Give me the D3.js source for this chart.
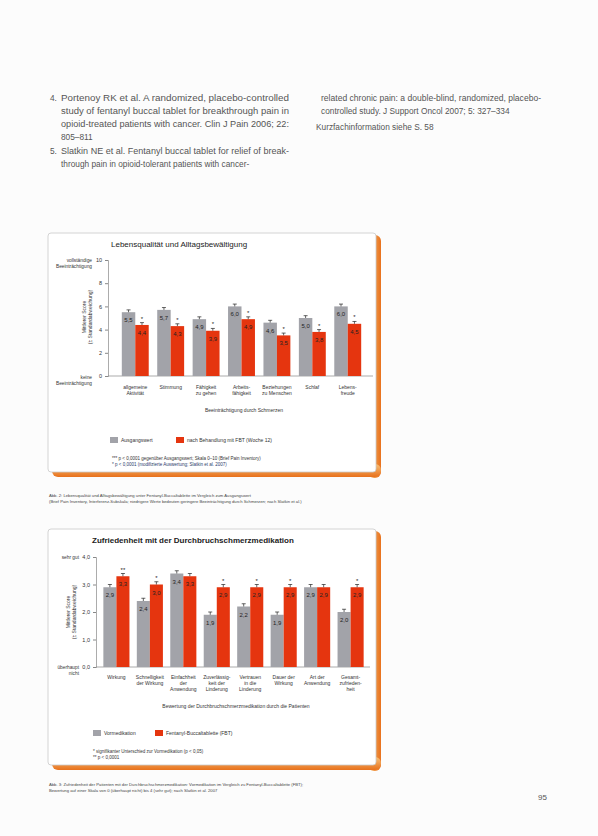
<!DOCTYPE html>
<html><head><meta charset="utf-8">
<script src="https://cdn.jsdelivr.net/npm/d3@7"></script>
<style>
html,body{margin:0;padding:0;background:#fff;}
svg{display:block;font-family:"Liberation Sans",Arial,sans-serif;}
</style></head>
<body>
<script>
// ---------- data ----------
const qolCategories = ["allgemeine\nAktivität","Stimmung","Fähigkeit\nzu gehen","Arbeits-\nfähigkeit","Beziehungen\nzu Menschen","Schlaf","Lebens-\nfreude"];
const qolBaseline = [5.5, 5.7, 4.9, 6.0, 4.6, 5.0, 6.0];
const qolFBT      = [4.4, 4.3, 3.9, 4.9, 3.5, 3.8, 4.5];
const qolErrBase  = [0.2, 0.2, 0.2, 0.2, 0.2, 0.2, 0.2];
const qolErrFBT   = [0.2, 0.2, 0.2, 0.2, 0.2, 0.2, 0.2];
const qolStars    = ["*","*","*","*","*","*","*"];
const qolTicks    = [0, 2, 4, 6, 8, 10];

const satCategories = ["Wirkung","Schnelligkeit\nder Wirkung","Einfachheit\nder\nAnwendung","Zuverlässig-\nkeit der\nLinderung","Vertrauen\nin die\nLinderung","Dauer der\nWirkung","Art der\nAnwendung","Gesamt-\nzufrieden-\nheit"];
const satPrior = [2.9, 2.4, 3.4, 1.9, 2.2, 1.9, 2.9, 2.0];
const satFBT   = [3.3, 3.0, 3.3, 2.9, 2.9, 2.9, 2.9, 2.9];
const satErrPrior = [0.1, 0.1, 0.1, 0.1, 0.1, 0.1, 0.1, 0.1];
const satErrFBT   = [0.1, 0.1, 0.1, 0.1, 0.1, 0.1, 0.1, 0.1];
const satStars = ["**","*","","*","*","*","","*"];
const satTicks = [0, 1, 2, 3, 4];

const fmt = v => d3.format(".1f")(v).replace(".", ",");

const W = 598, H = 836;
const svg = d3.select("body").append("svg").attr("width", W).attr("height", H);
svg.append("rect").attr("width", W).attr("height", H).attr("fill", "#fcfcfc");

const TXT = "#555";
const GRAY = "#a2a3a9", RED = "#e5350f";

// ---------- page text ----------
const refsLeft = [
  ["4.", "Portenoy RK et al. A randomized, placebo-controlled", true],
  ["",   "study of fentanyl buccal tablet for breakthrough pain in", true],
  ["",   "opioid-treated patients with cancer. Clin J Pain 2006; 22:", true],
  ["",   "805–811", false],
  ["5.", "Slatkin NE et al. Fentanyl buccal tablet for relief of break-", true],
  ["",   "through pain in opioid-tolerant patients with cancer-", false]
];
const leftY = [101, 114, 127, 140, 154, 167];
refsLeft.forEach((r, i) => {
  if (r[0]) svg.append("text").attr("x", 50).attr("y", leftY[i]).attr("font-size", 8.3).attr("fill", TXT).text(r[0]);
  const t = svg.append("text").attr("x", 61).attr("y", leftY[i]).attr("font-size", 8.3).attr("fill", TXT).text(r[1]);
  if (r[2]) t.attr("textLength", 228).attr("lengthAdjust", "spacingAndGlyphs");
});
svg.append("text").attr("x", 321).attr("y", 101).attr("font-size", 8.3).attr("fill", TXT).attr("textLength", 220).attr("lengthAdjust", "spacingAndGlyphs").text("related chronic pain: a double-blind, randomized, placebo-");
svg.append("text").attr("x", 321).attr("y", 114).attr("font-size", 8.3).attr("fill", TXT).text("controlled study. J Support Oncol 2007; 5: 327–334");
svg.append("text").attr("x", 316).attr("y", 130).attr("font-size", 8.3).attr("fill", TXT).text("Kurzfachinformation siehe S. 58");
svg.append("text").attr("x", 538).attr("y", 800).attr("font-size", 8).attr("fill", TXT).text("95");

// ---------- box helper ----------
const defs = svg.append("defs");
const gR = defs.append("linearGradient").attr("id", "gr").attr("x1", 0).attr("x2", 1).attr("y1", 0).attr("y2", 0);
gR.append("stop").attr("offset", 0).attr("stop-color", "#f7c27a");
gR.append("stop").attr("offset", 1).attr("stop-color", "#e8711c");
const gB = defs.append("linearGradient").attr("id", "gb").attr("x1", 0).attr("x2", 0).attr("y1", 0).attr("y2", 1);
gB.append("stop").attr("offset", 0).attr("stop-color", "#f7c27a");
gB.append("stop").attr("offset", 1).attr("stop-color", "#e8711c");

function box(x0, y0, x1, y1) {
  svg.append("rect").attr("x", x1 - 8).attr("y", y0 + 2).attr("width", 13).attr("height", y1 - y0 + 4).attr("rx", 6).attr("fill", "url(#gr)");
  svg.append("rect").attr("x", x0 + 4).attr("y", y1 - 8).attr("width", x1 - x0 + 1).attr("height", 13).attr("rx", 6).attr("fill", "url(#gb)");
  svg.append("rect").attr("x", x0).attr("y", y0).attr("width", x1 - x0).attr("height", y1 - y0).attr("rx", 3)
    .attr("fill", "#fff").attr("stroke", "#c9c9c9").attr("stroke-width", 0.8);
}

function multiline(g, str, x, y, size, lh, anchor) {
  const t = g.append("text").attr("x", x).attr("y", y).attr("font-size", size).attr("fill", "#333").attr("text-anchor", anchor || "middle");
  str.split("\n").forEach((s, i) => t.append("tspan").attr("x", x).attr("dy", i ? lh : 0).text(s));
  return t;
}

function bars(g, cats, a, b, ea, eb, stars, x, y, labelSize) {
  const xs = d3.scaleBand().domain(cats.map((_, i) => i)).range(x.range()).paddingInner(x.pi).paddingOuter(x.po);
  const sub = d3.scaleBand().domain([0, 1]).range([0, xs.bandwidth()]);
  const y0 = y(y.domain()[0]);
  cats.forEach((c, i) => {
    [[a[i], ea[i], GRAY], [b[i], eb[i], RED]].forEach((s, k) => {
      const bx = xs(i) + sub(k), bw = sub.bandwidth();
      g.append("rect").attr("x", bx).attr("y", y(s[0])).attr("width", bw).attr("height", y0 - y(s[0])).attr("fill", s[2]);
      const cx = bx + bw / 2;
      g.append("line").attr("x1", cx).attr("x2", cx).attr("y1", y(s[0])).attr("y2", y(s[0] + s[1])).attr("stroke", "#222").attr("stroke-width", 0.7);
      g.append("line").attr("x1", cx - 2).attr("x2", cx + 2).attr("y1", y(s[0] + s[1])).attr("y2", y(s[0] + s[1])).attr("stroke", "#222").attr("stroke-width", 0.7);
      g.append("text").attr("x", cx).attr("y", y(s[0]) + 10).attr("text-anchor", "middle").attr("font-size", labelSize)
        .attr("fill", "#222").text(fmt(s[0]));
      if (k === 1 && stars[i]) g.append("text").attr("x", cx).attr("y", y(s[0] + s[1]) - 2).attr("text-anchor", "middle")
        .attr("font-size", 6).attr("fill", "#222").text(stars[i]);
    });
  });
  return xs;
}

// ---------- chart 1 ----------
box(48, 233, 376, 472);
const g1 = svg.append("g");
g1.append("text").attr("x", 111).attr("y", 247).attr("font-size", 8).attr("fill", "#222").text("Lebensqualität und Alltagsbewältigung");
const y1 = d3.scaleLinear().domain([0, 10]).range([376, 260]);
const x1 = d3.scaleLinear().range([108, 375]); x1.pi = 0.24; x1.po = 0.39;
const ax1 = g1.append("g").attr("transform", "translate(108,0)")
  .call(d3.axisLeft(y1).tickValues(qolTicks).tickSize(3).tickFormat(d => d));
ax1.select(".domain").attr("stroke", "#888").attr("stroke-width", 0.7);
ax1.selectAll(".tick line").attr("stroke", "#888");
ax1.selectAll(".tick text").attr("font-size", 5.5).attr("fill", "#333").attr("font-family", "Liberation Sans, Arial, sans-serif");
g1.append("line").attr("x1", 108).attr("x2", 373).attr("y1", 376).attr("y2", 376).attr("stroke", "#888").attr("stroke-width", 0.7);
multiline(g1, "vollständige\nBeeinträchtigung", 92, 262, 4.8, 6, "end");
multiline(g1, "keine\nBeeinträchtigung", 92, 379, 4.8, 6, "end");
g1.append("text").attr("transform", "translate(86,317) rotate(-90)").attr("text-anchor", "middle").attr("font-size", 5).attr("fill", "#333").text("Mittlerer Score");
g1.append("text").attr("transform", "translate(92,317) rotate(-90)").attr("text-anchor", "middle").attr("font-size", 5).attr("fill", "#333").text("(± Standardabweichung)");
const xs1 = bars(g1, qolCategories, qolBaseline, qolFBT, qolErrBase, qolErrFBT, qolStars, x1, y1, 6);
qolCategories.forEach((c, i) => multiline(g1, c, xs1(i) + xs1.bandwidth() / 2, 389, 5, 6));
g1.append("text").attr("x", 244).attr("y", 412).attr("text-anchor", "middle").attr("font-size", 5).attr("fill", "#333").text("Beeinträchtigung durch Schmerzen");
g1.append("rect").attr("x", 110).attr("y", 437).attr("width", 8).attr("height", 6).attr("fill", GRAY);
g1.append("text").attr("x", 121).attr("y", 442).attr("font-size", 5).attr("fill", "#333").text("Ausgangswert");
g1.append("rect").attr("x", 176).attr("y", 437).attr("width", 8).attr("height", 6).attr("fill", RED);
g1.append("text").attr("x", 187).attr("y", 442).attr("font-size", 5).attr("fill", "#333").text("nach Behandlung mit FBT (Woche 12)");
g1.append("text").attr("x", 112).attr("y", 460).attr("font-size", 4.5).attr("fill", "#333").text("*** p < 0,0001 gegenüber Ausgangswert; Skala 0–10 (Brief Pain Inventory)");
g1.append("text").attr("x", 112).attr("y", 466).attr("font-size", 4.5).attr("fill", "#2a3a6a").text("* p < 0,0001 (modifizierte Auswertung; Slatkin et al. 2007)");
svg.append("text").attr("x", 49).attr("y", 497).attr("font-size", 4.2).attr("fill", "#444").text("Abb. 2: Lebensqualität und Alltagsbewältigung unter Fentanyl-Buccaltablette im Vergleich zum Ausgangswert");
svg.append("text").attr("x", 49).attr("y", 503).attr("font-size", 4.2).attr("fill", "#444").text("(Brief Pain Inventory, Interferenz-Subskala; niedrigere Werte bedeuten geringere Beeinträchtigung durch Schmerzen; nach Slatkin et al.)");

// ---------- chart 2 ----------
box(48, 529, 376, 765);
const g2 = svg.append("g");
g2.append("text").attr("x", 92).attr("y", 543).attr("font-size", 8).attr("font-weight", "bold").attr("fill", "#222").text("Zufriedenheit mit der Durchbruchschmerzmedikation");
const y2 = d3.scaleLinear().domain([0, 4]).range([667, 557]);
const x2 = d3.scaleLinear().range([96, 371]); x2.pi = 0.22; x2.po = 0.22;
const ax2 = g2.append("g").attr("transform", "translate(96,0)")
  .call(d3.axisLeft(y2).tickValues(satTicks).tickSize(3).tickFormat(d => fmt(d)));
ax2.select(".domain").attr("stroke", "#888").attr("stroke-width", 0.7);
ax2.selectAll(".tick line").attr("stroke", "#888");
ax2.selectAll(".tick text").attr("font-size", 5.5).attr("fill", "#333").attr("font-family", "Liberation Sans, Arial, sans-serif");
g2.append("line").attr("x1", 96).attr("x2", 370).attr("y1", 667).attr("y2", 667).attr("stroke", "#888").attr("stroke-width", 0.7);
multiline(g2, "sehr gut", 79, 559, 4.8, 6, "end");
multiline(g2, "überhaupt\nnicht", 79, 669, 4.8, 6, "end");
g2.append("text").attr("transform", "translate(70,612) rotate(-90)").attr("text-anchor", "middle").attr("font-size", 5).attr("fill", "#333").text("Mittlerer Score");
g2.append("text").attr("transform", "translate(76,612) rotate(-90)").attr("text-anchor", "middle").attr("font-size", 5).attr("fill", "#333").text("(± Standardabweichung)");
const xs2 = bars(g2, satCategories, satPrior, satFBT, satErrPrior, satErrFBT, satStars, x2, y2, 6);
satCategories.forEach((c, i) => multiline(g2, c, xs2(i) + xs2.bandwidth() / 2, 679, 5, 6));
g2.append("text").attr("x", 236).attr("y", 708).attr("text-anchor", "middle").attr("font-size", 5).attr("fill", "#333").text("Bewertung der Durchbruchschmerzmedikation durch die Patienten");
g2.append("rect").attr("x", 93).attr("y", 730).attr("width", 8).attr("height", 6).attr("fill", GRAY);
g2.append("text").attr("x", 104).attr("y", 735).attr("font-size", 5).attr("fill", "#333").text("Vormedikation");
g2.append("rect").attr("x", 155).attr("y", 730).attr("width", 8).attr("height", 6).attr("fill", RED);
g2.append("text").attr("x", 166).attr("y", 735).attr("font-size", 5).attr("fill", "#333").text("Fentanyl-Buccaltablette (FBT)");
g2.append("text").attr("x", 93).attr("y", 753).attr("font-size", 4.5).attr("fill", "#333").text("* signifikanter Unterschied zur Vormedikation (p < 0,05)");
g2.append("text").attr("x", 93).attr("y", 759).attr("font-size", 4.5).attr("fill", "#333").text("** p < 0,0001");
svg.append("text").attr("x", 49).attr("y", 786).attr("font-size", 4.2).attr("fill", "#444").text("Abb. 3: Zufriedenheit der Patienten mit der Durchbruchschmerzmedikation: Vormedikation im Vergleich zu Fentanyl-Buccaltablette (FBT);");
svg.append("text").attr("x", 49).attr("y", 792).attr("font-size", 4.2).attr("fill", "#444").text("Bewertung auf einer Skala von 0 (überhaupt nicht) bis 4 (sehr gut); nach Slatkin et al. 2007");
</script>
</body></html>
